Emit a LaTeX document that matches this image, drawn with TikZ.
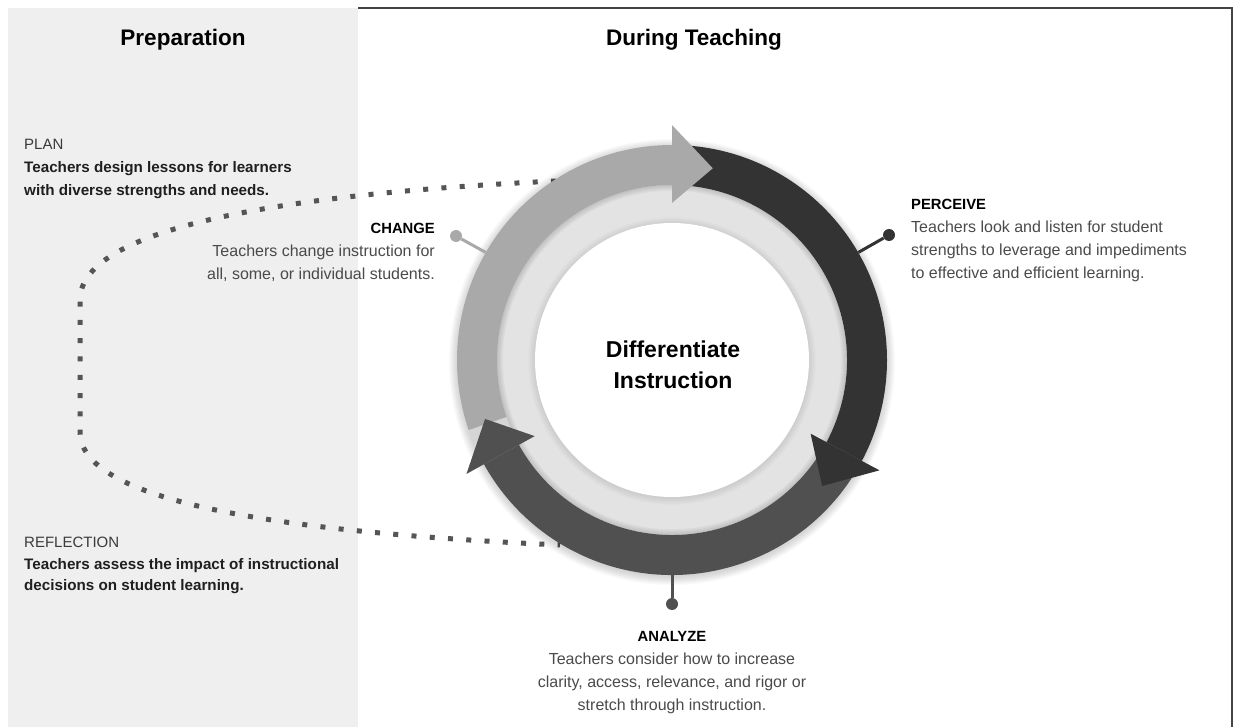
\documentclass[tikz,border=0pt]{standalone}
\usepackage{fontspec}
\setmainfont{Liberation Sans}
\usepackage{xcolor}
\usepackage{tikz}
\usetikzlibrary{calc}

\definecolor{panelgray}{HTML}{EFEFEF}
\definecolor{armlight}{HTML}{A9A9A9}
\definecolor{armdark}{HTML}{333333}
\definecolor{armmid}{HTML}{505050}
\definecolor{ringgray}{HTML}{E3E3E3}
\definecolor{dotgray}{HTML}{555555}
\definecolor{bodygray}{HTML}{4A4A4A}
\definecolor{labelgray}{HTML}{3A3A3A}
\definecolor{framegray}{HTML}{444444}

\newcommand{\stagehead}[1]{{\fontsize{14.8}{23}\selectfont\bfseries\color{black}#1}}
\newcommand{\prepbold}[1]{{\fontsize{15.2}{23}\selectfont\bfseries\color{black!88}#1}}
\newcommand{\preplabel}[1]{{\fontsize{15}{23}\selectfont\color{labelgray}#1}}

\begin{document}
\begin{tikzpicture}[x=1pt, y=-1pt,
        title/.style={font=\fontsize{22.5}{27}\selectfont\bfseries, inner sep=0, anchor=base},
        blurb/.style={font=\fontsize{16}{23}\selectfont, text=bodygray, inner sep=0},
        pin/.style={circle, inner sep=0, minimum size=12pt},
        leader/.style={line width=3pt},
        loopline/.style={dotgray, line width=5pt, dash pattern=on 5pt off 13.3pt}]

        \useasboundingbox (0,0) rectangle (1237,727);

        \fill[panelgray] (8,8) rectangle (358,727);
        \draw[framegray, line width=1.5pt] (358,8) -- (1232,8) -- (1232,727);

        \node[title] (prep title) at (183,46) {Preparation};
        \node[title] (teach title) at (694,46) {During Teaching};

        %%%

        \node[circle, minimum size=430pt, inner sep=0] (ring) at (672,360) {};
        \coordinate (plan end) at (556,181);
        \coordinate (reflect end) at (560,545);

        \draw[loopline] (plan end) .. controls (300,193) and (80,225) .. (80,300)
            -- (80,432) .. controls (80,505) and (300,533) .. (reflect end);

        \begin{scope}[shift={(672,360)}, yscale=-1]
            \foreach \k in {1,...,9}
                \fill[black, opacity=0.02] (0,-2) circle[radius={214+\k}];
            \fill[ringgray] (0,0) circle[radius=175];
            \foreach \k in {1,...,6}
                \fill[black, opacity=0.025, even odd rule] (0,0) circle[radius=175] circle[radius={175-\k}];
            \foreach \k in {1,...,7}
                \fill[black, opacity=0.012] (0,-1) circle[radius={137+\k}];
            \fill[white] (0,0) circle[radius=137];

            \fill[armlight] (199:215) arc[start angle=199, end angle=90, radius=215]
                -- (90:175) arc[start angle=90, end angle=199, radius=175] -- cycle;
            \fill[armdark] (90:215) arc[start angle=90, end angle=-28, radius=215]
                -- (-28:175) arc[start angle=-28, end angle=90, radius=175] -- cycle;
            \fill[armmid] (-28:215) arc[start angle=-28, end angle=-151, radius=215]
                -- (-151:175) arc[start angle=-151, end angle=-28, radius=175] -- cycle;

            \fill[armlight] (90:157) -- (90:235) -- (78:196) -- cycle;
            \fill[armdark] (-28:157) -- (-28:235) -- (-40:196) -- cycle;
            \fill[armmid] (209:157) -- (209:235) -- (197.5:196) -- cycle;
        \end{scope}

        \node[font=\fontsize{23}{31}\selectfont\bfseries, align=center, inner sep=0] (hub) at (673,365) {Differentiate\\Instruction};

        %%%

        \node[pin, fill=armlight] (change pin) at (456,236) {};
        \node[pin, fill=armdark] (perceive pin) at (889,235) {};
        \node[pin, fill=armmid] (analyze pin) at (672,604) {};

        \draw[leader, armlight] (change pin) -- (ring.150);
        \draw[leader, armdark] (perceive pin) -- (ring.30);
        \draw[leader, armmid] (analyze pin) -- (ring.270);

        \node[blurb, align=right, anchor=north east] (change text) at (435,223.3)
            {\stagehead{CHANGE}\\Teachers change instruction for\\all, some, or individual students.};
        \node[blurb, align=left, anchor=north west] (perceive text) at (911,199.3)
            {\stagehead{PERCEIVE}\\Teachers look and listen for student\\strengths to leverage and impediments\\to effective and efficient learning.};
        \node[blurb, align=center, anchor=north] (analyze text) at (672,631.3)
            {\stagehead{ANALYZE}\\Teachers consider how to increase\\clarity, access, relevance, and rigor or\\stretch through instruction.};

        \node[blurb, align=left, anchor=north west] (plan text) at (24,139.3)
            {\preplabel{PLAN}\\\prepbold{Teachers design lessons for learners}\\\prepbold{with diverse strengths and needs.}};
        \node[blurb, font=\fontsize{16}{21.5}\selectfont, align=left, anchor=north west] (reflect text) at (24,537.3)
            {\preplabel{REFLECTION}\\\prepbold{Teachers assess the impact of instructional}\\\prepbold{decisions on student learning.}};
    \end{tikzpicture}
\end{document}
